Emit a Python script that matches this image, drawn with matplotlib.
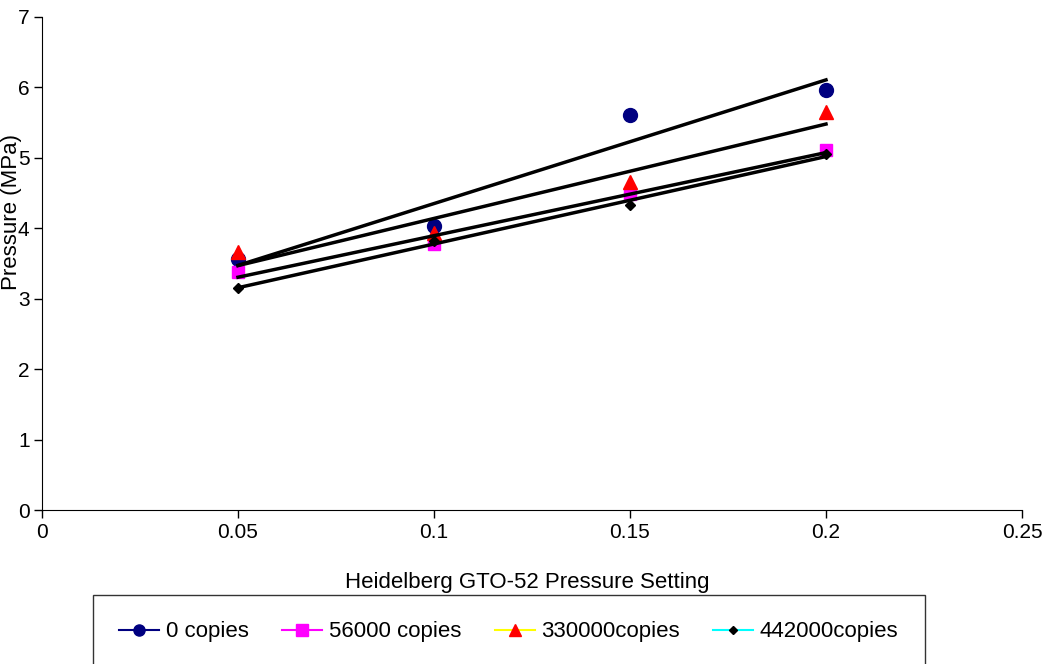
import numpy as np
import matplotlib
matplotlib.use('Agg')
import matplotlib.pyplot as plt
from matplotlib.lines import Line2D

settings = [0.05, 0.1, 0.15, 0.2]
copies_0 = [3.56, 4.03, 5.61, 5.96]
copies_56000 = [3.38, 3.78, 4.49, 5.11]
copies_330000 = [3.66, 3.93, 4.66, 5.65]
copies_442000 = [3.15, 3.82, 4.33, 5.05]
labels = ['0 copies', '56000 copies', '330000copies', '442000copies']

plt.rcParams['font.family'] = ['Liberation Sans', 'DejaVu Sans']

W, H = 1049, 664
fig = plt.figure(figsize=(W / 100, H / 100), dpi=100)
ax = fig.add_axes([42 / W, 1 - 510 / H, 980 / W, 493 / H])

series = [copies_0, copies_56000, copies_330000, copies_442000]
markers = ['o', 's', '^', 'D']
mcolors = ['#000080', '#FF00FF', '#FF0000', '#000000']
lcolors = ['#000080', '#FF00FF', '#FFFF00', '#00FFFF']
msizes = [10, 9, 10, 5]

x = np.array(settings)
for ys, m, mc, ms in zip(series, markers, mcolors, msizes):
    ax.plot(x, ys, linestyle='none', marker=m, color=mc, markersize=ms, zorder=3)
# linear trendlines
for ys in series:
    k, b = np.polyfit(x, ys, 1)
    ax.plot(x[[0, -1]], k * x[[0, -1]] + b, color='black', linewidth=2.5, zorder=4)

ax.set_xlim(0, 0.25)
ax.set_ylim(0, 7)
ax.set_xticks([0, 0.05, 0.1, 0.15, 0.2, 0.25])
ax.set_xticklabels(['0', '0.05', '0.1', '0.15', '0.2', '0.25'])
ax.set_yticks(range(8))
ax.tick_params(labelsize=15, length=6, width=1, direction='out', pad=3)
for pos in ['top', 'right']:
    ax.spines[pos].set_visible(False)

ax.set_xlabel('Heidelberg GTO-52 Pressure Setting', fontsize=16)
ax.xaxis.set_label_coords((527 - 42) / 980, -(572 - 510) / 493)
ax.set_ylabel('Pressure (MPa)', fontsize=16)
ax.yaxis.set_label_coords(-(42 - 22) / 980, (510 - 212) / 493)

handles = [Line2D([], [], color=lc, marker=m, markerfacecolor=mc, markeredgecolor=mc,
                  markersize=ms, linewidth=1.5)
           for lc, m, mc, ms in zip(lcolors, markers, mcolors, [8, 8, 8, 4])]
leg = fig.legend(handles, labels, loc='center', bbox_to_anchor=(509 / W, 1 - 632 / H),
                 ncol=4, fontsize=16, frameon=True, fancybox=False, edgecolor='black',
                 handlelength=1.8, handletextpad=0.3, columnspacing=1.5,
                 borderpad=1.2)
leg.get_frame().set_linewidth(1)

fig.savefig('out.png', dpi=100)
